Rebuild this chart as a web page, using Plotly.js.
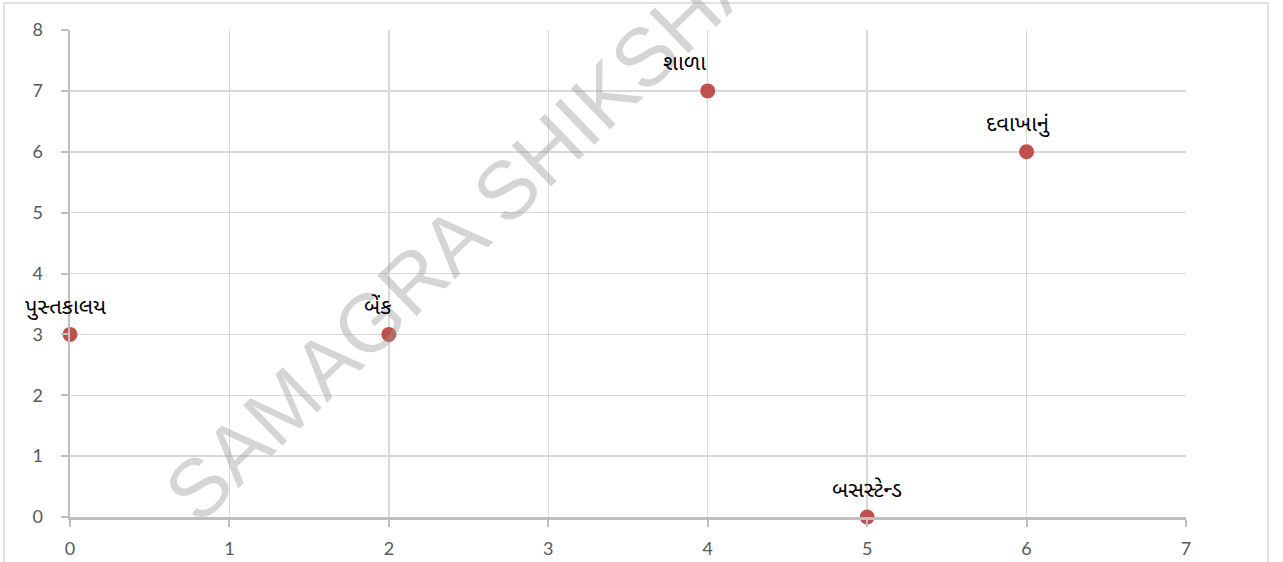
<!DOCTYPE html>
<html>
<head>
<meta charset="utf-8">
<script src="https://cdn.plot.ly/plotly-3.0.1.min.js"></script>
<style>
html,body{margin:0;padding:0;background:#fff;}
#chart{width:1283px;height:562px;}
</style>
</head>
<body>
<div id="chart"></div>
<script>
// Data
const places = ['પુસ્તકાલય', 'બેંક', 'શાળા', 'દવાખાનું', 'બસસ્ટેન્ડ'];
const xValues = [0, 2, 4, 6, 5];
const yValues = [3, 3, 7, 6, 0];
const xTicks = [0, 1, 2, 3, 4, 5, 6, 7];
const yTicks = [0, 1, 2, 3, 4, 5, 6, 7, 8];
const watermarkText = 'SAMAGRA SHIKSHA';

// label horizontal nudges (style only)
const labelShift = [-5, -11, -23, -9, 0];

const trace = {
  type: 'scatter',
  mode: 'markers',
  x: xValues,
  y: yValues,
  marker: {color: '#c0504d', size: 15, line: {width: 0}},
  hoverinfo: 'skip',
  cliponaxis: false
};

const labelAnnotations = places.map((p, i) => ({
  x: xValues[i], y: yValues[i], xref: 'x', yref: 'y',
  text: p, showarrow: false,
  xanchor: 'center', yanchor: 'middle',
  xshift: labelShift[i], yshift: 26,
  font: {family: 'Noto Sans Gujarati, Noto Sans, sans-serif', size: 22, color: '#000000'}
}));

const watermark = {
  xref: 'paper', yref: 'paper',
  x: (462 - 70) / 1116, y: (517 - 232) / 487,
  xanchor: 'center', yanchor: 'middle',
  text: watermarkText, showarrow: false,
  textangle: -44,
  font: {family: 'Liberation Sans, Arial, sans-serif', size: 82, color: 'rgba(150,150,150,0.4)'}
};

const axisCommon = {
  showgrid: true, gridcolor: '#d9d9d9', gridwidth: 1.5,
  zeroline: false,
  showline: true, linecolor: '#bfbfbf', linewidth: 2.5,
  ticks: 'outside', ticklen: 7, tickwidth: 2, tickcolor: '#bfbfbf',
  tickfont: {family: 'Lato, Carlito, Calibri, sans-serif', size: 18, color: '#595959'},
  fixedrange: true
};

const layout = {
  width: 1283, height: 562,
  margin: {l: 70, r: 97, t: 30, b: 45},
  paper_bgcolor: '#ffffff', plot_bgcolor: '#ffffff',
  showlegend: false,
  xaxis: Object.assign({}, axisCommon, {range: [0, 7], tickvals: xTicks, ticktext: xTicks.map(String), ticklabelstandoff: 7}),
  yaxis: Object.assign({}, axisCommon, {range: [0, 8], tickvals: yTicks, ticktext: yTicks.map(String), ticklabelstandoff: 14}),
  annotations: [watermark].concat(labelAnnotations),
  shapes: [{
    type: 'rect', xref: 'paper', yref: 'paper',
    x0: (4 - 70) / 1116, x1: (1268 - 70) / 1116,
    y0: -0.3, y1: (517 - 3) / 487,
    line: {color: '#d9d9d9', width: 1.5}, fillcolor: 'rgba(0,0,0,0)', layer: 'below'
  }]
};

Plotly.newPlot('chart', [trace], layout, {staticPlot: true, displayModeBar: false});
</script>
</body>
</html>
